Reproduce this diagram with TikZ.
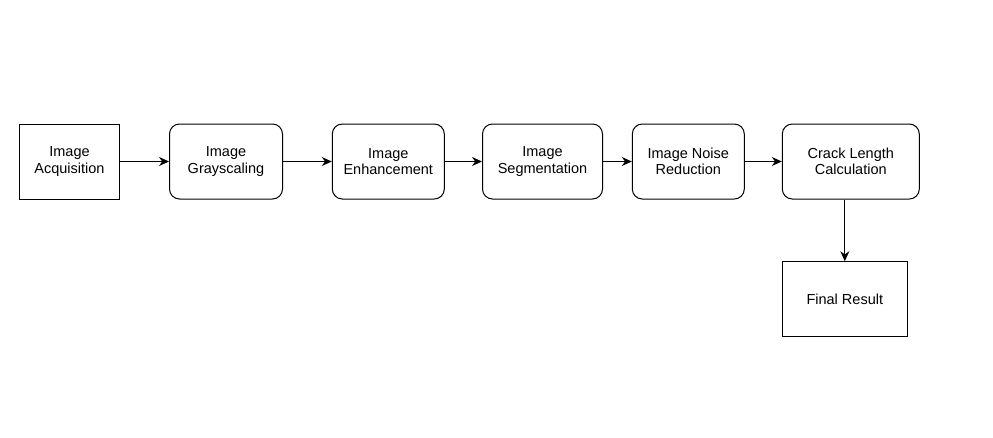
\documentclass[tikz,border=0pt]{standalone}
\usepackage{fontspec}
\setmainfont{Liberation Sans}
\usetikzlibrary{arrows.meta}

\tikzset{
    stage/.style={draw, line width=1pt, rounded corners=10pt, align=center,
                  minimum height=75pt, inner sep=2pt,
                  font=\fontsize{14.5}{16.5}\selectfont},
    endbox/.style={stage, sharp corners},
    flow/.style={line width=1pt, -{Stealth[length=10pt,width=9pt]}}
}

\begin{document}
\begin{tikzpicture}[x=1pt, y=-1pt]
            \useasboundingbox (0,0) rectangle (993,437);

            % pipeline stages
            \node[endbox, minimum width=100pt] (acq) at (69.5,161.5) {Image\\Acquisition};
            \node[stage, minimum width=113pt] (gray) at (226,161.5) {Image\\Grayscaling};
            \node[stage, minimum width=112pt] (enh) at (388.3,161.5) {Image\\Enhancement};
            \node[stage, minimum width=120pt] (seg) at (542.5,161.5) {Image\\Segmentation};
            \node[stage, minimum width=112pt] (noise) at (688.3,161.5) {Image Noise\\Reduction};
            \node[stage, minimum width=137pt] (crack) at (850.8,161.5) {Crack Length\\Calculation};
            % result
            \node[endbox, minimum width=125pt] (final) at (844.8,299.2) {Final Result};

            % arrows
            \draw[flow] (acq) -- (gray);
            \draw[flow] (gray) -- (enh);
            \draw[flow] (enh) -- (seg);
            \draw[flow] (seg) -- (noise);
            \draw[flow] (noise) -- (crack);
            \draw[flow] (crack.south -| final.north) -- (final.north);
          \end{tikzpicture}
\end{document}
